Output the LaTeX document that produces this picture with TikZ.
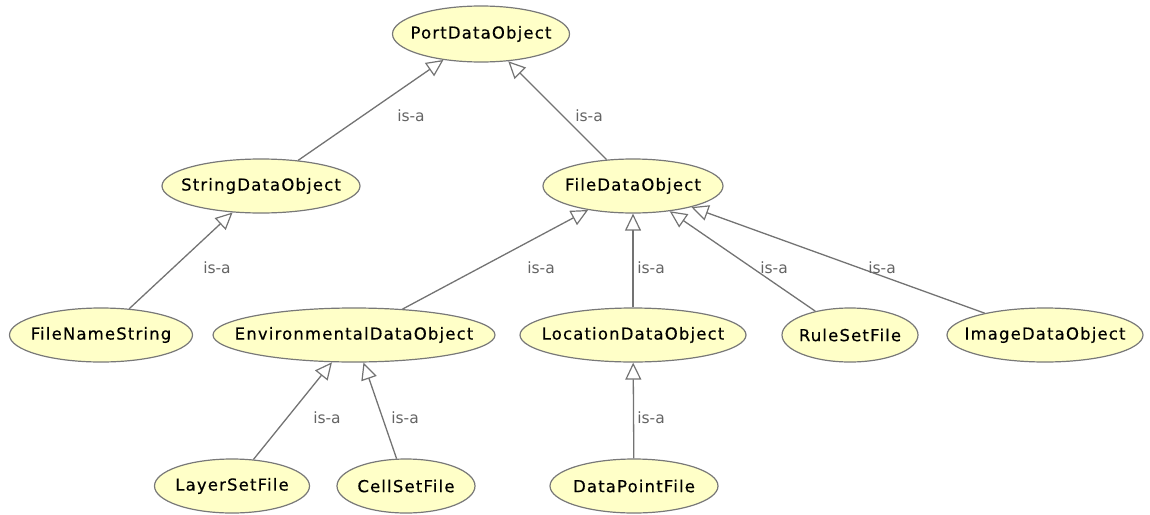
\documentclass[tikz,border=0pt]{standalone}
\usepackage{fontspec}
\setmainfont{DejaVu Sans}
\newfontfamily\clsfont[LetterSpace=7,FakeBold=0.4]{DejaVu Sans}
\usetikzlibrary{shapes.geometric,arrows.meta}
\definecolor{classfill}{RGB}{255,255,200}
\definecolor{classline}{RGB}{120,120,120}
\definecolor{edgecol}{RGB}{115,115,115}
\definecolor{labelcol}{RGB}{100,100,100}
\tikzset{
  % class ellipses keep their given size; the name is set in a zero-width box
  cls/.style={ellipse, draw=classline, line width=1.2pt, fill=classfill, inner sep=0pt,
    minimum height=54pt, font=\clsfont\fontsize{16.5}{18}\selectfont, text=black,
    execute at begin node={\hbox to 0pt\bgroup\hss},
    execute at end node={\hss\egroup}},
  isa/.style={draw=edgecol, line width=1.3pt,
    -{Triangle[open, length=17pt, width=16pt, line width=1.2pt]}},
  lbl/.style={font=\fontsize{15.5}{18}\selectfont, text=labelcol, inner sep=0pt}
}
\begin{document}
\begin{tikzpicture}[x=1pt, y=-1pt]
\useasboundingbox (0,0) rectangle (1150,514);
% classes
\node[cls, minimum width=177pt, minimum height=56pt] (port) at (481,34) {PortDataObject};
\node[cls, minimum width=198pt] (string) at (261,186) {StringDataObject};
\node[cls, minimum width=180pt] (file) at (633,186) {FileDataObject};
\node[cls, minimum width=183pt] (fname) at (101,335) {FileNameString};
\node[cls, minimum width=282pt] (env) at (354,335) {EnvironmentalDataObject};
\node[cls, minimum width=226pt] (loc) at (633,335) {LocationDataObject};
\node[cls, minimum width=136pt] (rule) at (850,335) {RuleSetFile};
\node[cls, minimum width=196pt] (image) at (1045,335) {ImageDataObject};
\node[cls, minimum width=155pt] (layer) at (232,486) {LayerSetFile};
\node[cls, minimum width=138pt] (cell) at (406,486) {CellSetFile};
\node[cls, minimum width=168pt] (dp) at (634,486) {DataPointFile};
% inheritance links
\draw[isa] (string) -- (port);
\draw[isa] (file) -- (port);
\draw[isa] (fname) -- (string);
\draw[isa] (env) -- (file);
\draw[isa] (loc) -- (file);
\draw[isa] (rule) -- (file);
\draw[isa] (image) -- (file);
\draw[isa] (layer) -- (env);
\draw[isa] (cell) -- (env);
\draw[isa] (dp) -- (loc);
% link labels
\node[lbl] (l1) at (411,116) {is-a};
\node[lbl] (l2) at (589,116) {is-a};
\node[lbl] (l3) at (217,268) {is-a};
\node[lbl] (l4) at (541,268) {is-a};
\node[lbl] (l5) at (651,268) {is-a};
\node[lbl] (l6) at (774,268) {is-a};
\node[lbl] (l7) at (882,268) {is-a};
\node[lbl] (l8) at (327,418) {is-a};
\node[lbl] (l9) at (405,418) {is-a};
\node[lbl] (l10) at (651,418) {is-a};
\end{tikzpicture}
\end{document}
